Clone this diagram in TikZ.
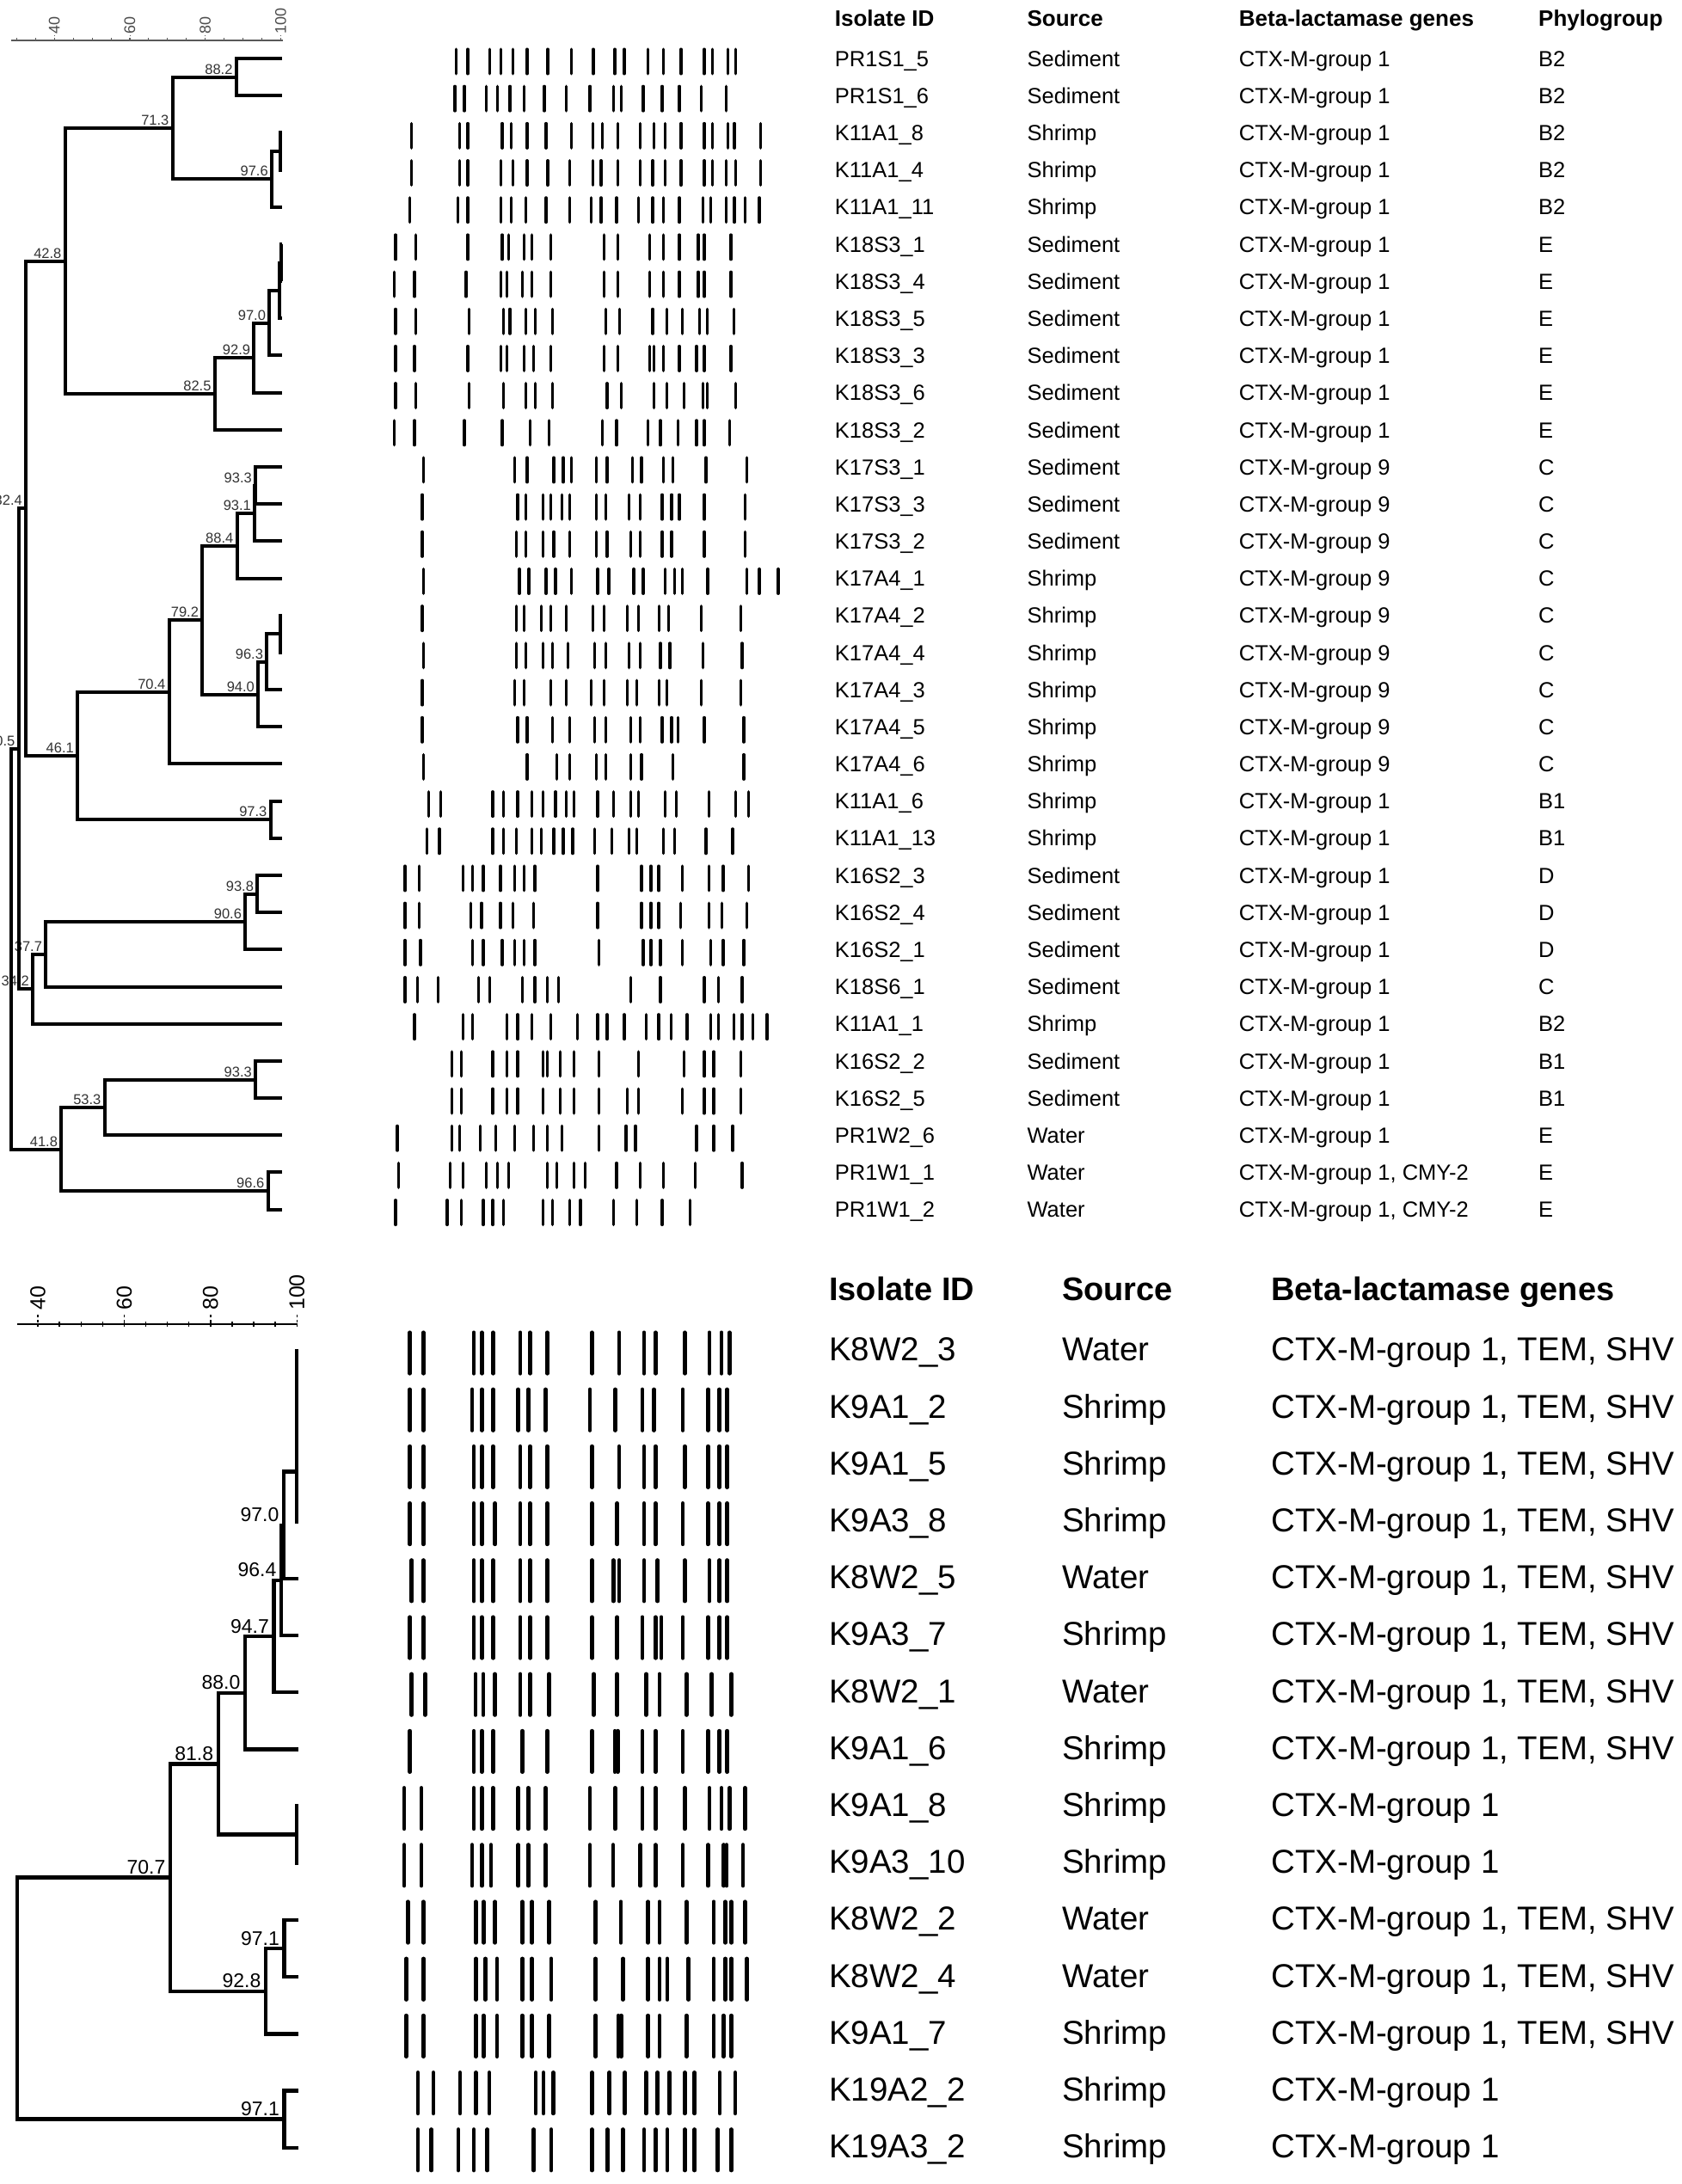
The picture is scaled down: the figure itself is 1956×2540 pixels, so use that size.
\documentclass[tikz,border=0pt]{standalone}
\usepackage{fontspec}
\setmainfont{Liberation Sans}
\newcommand{\tbands}[2]{\foreach \d in {#2}{\draw[tband] ({440+\d/3},{71.5+43.18*#1-14.2}) -- ++(0,28.4);}}
\newcommand{\bbands}[2]{\foreach \d in {#2}{\draw[bband] ({455+\d/3},{1573.5+66.2*#1-23.8}) -- ++(0,47.6);}}
\begin{document}
\begin{tikzpicture}[x=1pt,y=-1pt,
  tline/.style={line width=4pt,line join=miter},
  bline/.style={line width=4.5pt,line join=miter},
  tband/.style={line width=3.6pt,line cap=round},
  bband/.style={line width=4.6pt,line cap=round},
  tlbl/.style={font=\fontsize{16.5}{16.5}\selectfont,text=black!80,anchor=base east,inner sep=0pt},
  blbl/.style={font=\fontsize{23}{23}\selectfont,anchor=base east,inner sep=0pt},
  taxis/.style={font=\fontsize{18}{18}\selectfont,text=black!70,rotate=90,anchor=west,inner sep=0pt},
  baxis/.style={font=\fontsize{25}{25}\selectfont,rotate=90,anchor=west,inner sep=0pt},
  ttext/.style={font=\fontsize{25.5}{28}\selectfont,anchor=base west,inner sep=0pt},
  thead/.style={font=\fontsize{26}{28}\selectfont\bfseries,anchor=base west,inner sep=0pt},
  bhead/.style={font=\fontsize{38}{40}\selectfont\bfseries,anchor=base west,inner sep=0pt},
  btext/.style={font=\fontsize{38.5}{40}\selectfont,anchor=base west,inner sep=0pt}]
\useasboundingbox (0,0) rectangle (1956,2540);
\fill[white] (0,0) rectangle (1956,2540);
\clip (0,0) rectangle (1956,2540);

%% ---------------- TOP AXIS ----------------
\draw[black!65,line width=1.3pt] (13,47) -- (329,47);
\foreach \s in {30,35,...,100} \draw[black!65,line width=1.1pt] ({63.3+(\s-40)*4.385},47) -- ++(0,-3);
\foreach \s in {40,60,80,100} \draw[black!65,line width=1pt,dash pattern=on 2pt off 2pt] ({63.3+(\s-40)*4.385},46) -- ++(0,-5);
\foreach \s in {40,60,80,100} \node[taxis] (tax\s) at ({63.3+(\s-40)*4.385},40) {\s};

%% ---------------- TOP TREE ----------------
\foreach \i in {0,...,31} \coordinate (T\i) at (328,{68+43.18*\i});
\coordinate (t882) at (274.7,89.6);
\coordinate (tc23) at (326,176.0);
\coordinate (t976) at (315.9,208.3);
\coordinate (t713) at (200.6,149.0);
\coordinate (tc56) at (327,305.5);
\coordinate (tc567) at (325,337.9);
\coordinate (t970) at (313.2,375.7);
\coordinate (t929) at (295.3,416.1);
\coordinate (t825) at (249.7,458.0);
\coordinate (t428) at (75.6,303.5);
\coordinate (t933a) at (297.0,564.6);
\coordinate (t931) at (296.1,597.0);
\coordinate (t884) at (275.5,634.7);
\coordinate (tc1516) at (326,737.3);
\coordinate (t963) at (310.2,769.7);
\coordinate (t940) at (300.1,807.5);
\coordinate (t792) at (235.2,721.1);
\coordinate (t704) at (196.6,804.8);
\coordinate (t973) at (314.6,953.2);
\coordinate (t461) at (90.0,879.0);
\coordinate (t324) at (30.0,591.3);
\coordinate (t938) at (299.2,1039.6);
\coordinate (t906) at (285.2,1072.0);
\coordinate (t377) at (53.2,1109.8);
\coordinate (t342) at (37.9,1150.2);
\coordinate (t305) at (21.6,870.8);
\coordinate (t933b) at (297.0,1255.5);
\coordinate (t533) at (121.6,1287.9);
\coordinate (t966) at (311.5,1385.0);
\coordinate (t418) at (71.2,1336.5);
\coordinate (troot) at (12.9,1103.6);

\foreach \n/\v in {t882/88.2,t713/71.3,t976/97.6,t428/42.8,t970/97.0,t929/92.9,t825/82.5,t324/32.4,
  t933a/93.3,t931/93.1,t884/88.4,t792/79.2,t963/96.3,t940/94.0,t704/70.4,t461/46.1,t973/97.3,
  t305/30.5,t938/93.8,t906/90.6,t377/37.7,t342/34.2,t933b/93.3,t533/53.3,t418/41.8,t966/96.6}
  \node[tlbl] (l\n) at ([xshift=-4pt,yshift=3.5pt]\n) {\v};

\draw[tline] (T0) -| (t882) |- (T1);
\draw[tline] (T2) -| (tc23) |- (T3);
\draw[tline] (tc23) -| (t976) |- (T4);
\draw[tline] (t882) -| (t713) |- (t976);
\draw[tline] (T5) -| (tc56) |- (T6);
\draw[tline] (tc56) -| (tc567) |- (T7);
\draw[tline] (tc567) -| (t970) |- (T8);
\draw[tline] (t970) -| (t929) |- (T9);
\draw[tline] (t929) -| (t825) |- (T10);
\draw[tline] (t713) -| (t428) |- (t825);
\draw[tline] (T11) -| (t933a) |- (T12);
\draw[tline] (t933a) -| (t931) |- (T13);
\draw[tline] (t931) -| (t884) |- (T14);
\draw[tline] (T15) -| (tc1516) |- (T16);
\draw[tline] (tc1516) -| (t963) |- (T17);
\draw[tline] (t963) -| (t940) |- (T18);
\draw[tline] (t884) -| (t792) |- (t940);
\draw[tline] (t792) -| (t704) |- (T19);
\draw[tline] (T20) -| (t973) |- (T21);
\draw[tline] (t704) -| (t461) |- (t973);
\draw[tline] (t428) -| (t324) |- (t461);
\draw[tline] (T22) -| (t938) |- (T23);
\draw[tline] (t938) -| (t906) |- (T24);
\draw[tline] (t906) -| (t377) |- (T25);
\draw[tline] (t377) -| (t342) |- (T26);
\draw[tline] (t324) -| (t305) |- (t342);
\draw[tline] (T27) -| (t933b) |- (T28);
\draw[tline] (t933b) -| (t533) |- (T29);
\draw[tline] (T30) -| (t966) |- (T31);
\draw[tline] (t533) -| (t418) |- (t966);
\draw[tline] (t305) -| (troot) |- (t418);

%% ---------------- TOP BANDS ----------------
\tbands{0}{272,312,388,427,470,519,591,673,750,825,858,940,995,1056,1137,1165,1219,1247}
\tbands{1}{267,300,377,415,459,509,579,656,738,820,848,924,990,1050,1127,1214}
\tbands{2}{115,284,312,432,464,519,585,673,749,782,836,913,962,1001,1056,1137,1165,1219,1242,1334}
\tbands{3}{115,284,312,427,470,519,591,667,749,777,836,913,957,1001,1056,1137,1165,1214,1247,1334}
\tbands{4}{110,278,312,427,464,514,585,667,743,777,831,908,957,995,1050,1132,1160,1214,1242,1280,1329}
\tbands{5}{60,131,312,432,454,509,536,602,787,836,946,995,1050,1116,1137,1230}
\tbands{6}{55,126,306,427,448,503,536,602,787,836,946,995,1050,1116,1137,1230}
\tbands{7}{60,131,317,437,459,514,547,607,793,842,957,1006,1061,1121,1148,1241}
\tbands{8}{60,126,312,427,448,509,541,602,787,836,946,962,995,1050,1110,1137,1230}
\tbands{9}{60,131,317,437,514,547,607,798,847,962,1006,1066,1132,1148,1247}
\tbands{10}{55,126,300,432,530,596,782,831,940,984,1045,1110,1137,1225}
\tbands{11}{158,476,519,612,645,673,760,798,886,918,995,1028,1143,1286}
\tbands{12}{153,486,514,574,601,640,667,760,793,875,913,990,1023,1050,1137,1280}
\tbands{13}{153,481,514,574,612,667,760,798,880,913,990,1023,1137,1280}
\tbands{14}{158,492,525,585,618,673,765,804,891,924,1001,1034,1061,1149,1286,1329,1395}
\tbands{15}{153,481,509,569,601,656,749,787,869,908,979,1012,1127,1264}
\tbands{16}{158,481,514,574,607,662,754,793,875,913,984,1017,1132,1269}
\tbands{17}{153,476,509,601,656,743,787,869,902,979,1006,1127,1264}
\tbands{18}{153,486,519,607,667,754,793,880,913,990,1023,1045,1137,1275}
\tbands{19}{158,519,623,667,760,793,880,918,1028,1275}
\tbands{20}{175,218,399,437,486,536,574,618,656,683,765,820,880,908,1001,1039,1154,1247,1291}
\tbands{21}{170,213,399,437,481,536,569,612,645,678,754,815,875,902,995,1034,1143,1236}
\tbands{22}{93,142,295,328,366,426,475,508,546,765,918,951,978,1061,1154,1203,1291}
\tbands{23}{93,142,322,360,426,470,541,765,918,951,978,1055,1154,1198,1286}
\tbands{24}{93,147,328,366,432,475,508,546,770,924,951,984,1061,1159,1203,1275}
\tbands{25}{93,136,208,350,388,503,546,590,628,880,984,1137,1187,1269}
\tbands{26}{126,295,328,448,486,536,601,694,765,798,858,935,978,1022,1077,1159,1187,1241,1269,1307,1356}
\tbands{27}{257,289,399,448,486,574,590,634,683,770,908,1066,1137,1170,1264}
\tbands{28}{257,289,399,448,486,574,634,683,770,869,908,1061,1137,1170,1264}
\tbands{29}{66,257,284,355,410,475,541,590,640,770,864,897,1110,1170,1236}
\tbands{30}{71,251,295,377,415,454,590,623,683,721,831,913,995,1105,1269}
\tbands{31}{60,240,289,366,399,437,574,607,667,705,820,902,990,1088}

%% ---------------- TOP TABLE ----------------
\node[thead] (hid) at (970.7,31) {Isolate ID};
\node[thead] (hsrc) at (1194.4,31) {Source};
\node[thead] (hgen) at (1440.7,31) {Beta-lactamase genes};
\node[thead] (hph) at (1789,31) {Phylogroup};
\foreach \i/\id/\src/\gen/\ph in {
 0/PR1S1\_5/Sediment/CTX-M-group 1/B2,
 1/PR1S1\_6/Sediment/CTX-M-group 1/B2,
 2/K11A1\_8/Shrimp/CTX-M-group 1/B2,
 3/K11A1\_4/Shrimp/CTX-M-group 1/B2,
 4/K11A1\_11/Shrimp/CTX-M-group 1/B2,
 5/K18S3\_1/Sediment/CTX-M-group 1/E,
 6/K18S3\_4/Sediment/CTX-M-group 1/E,
 7/K18S3\_5/Sediment/CTX-M-group 1/E,
 8/K18S3\_3/Sediment/CTX-M-group 1/E,
 9/K18S3\_6/Sediment/CTX-M-group 1/E,
 10/K18S3\_2/Sediment/CTX-M-group 1/E,
 11/K17S3\_1/Sediment/CTX-M-group 9/C,
 12/K17S3\_3/Sediment/CTX-M-group 9/C,
 13/K17S3\_2/Sediment/CTX-M-group 9/C,
 14/K17A4\_1/Shrimp/CTX-M-group 9/C,
 15/K17A4\_2/Shrimp/CTX-M-group 9/C,
 16/K17A4\_4/Shrimp/CTX-M-group 9/C,
 17/K17A4\_3/Shrimp/CTX-M-group 9/C,
 18/K17A4\_5/Shrimp/CTX-M-group 9/C,
 19/K17A4\_6/Shrimp/CTX-M-group 9/C,
 20/K11A1\_6/Shrimp/CTX-M-group 1/B1,
 21/K11A1\_13/Shrimp/CTX-M-group 1/B1,
 22/K16S2\_3/Sediment/CTX-M-group 1/D,
 23/K16S2\_4/Sediment/CTX-M-group 1/D,
 24/K16S2\_1/Sediment/CTX-M-group 1/D,
 25/K18S6\_1/Sediment/CTX-M-group 1/C,
 26/K11A1\_1/Shrimp/CTX-M-group 1/B2,
 27/K16S2\_2/Sediment/CTX-M-group 1/B1,
 28/K16S2\_5/Sediment/CTX-M-group 1/B1,
 29/PR1W2\_6/Water/CTX-M-group 1/E,
 30/PR1W1\_1/Water/{CTX-M-group 1, CMY-2}/E,
 31/PR1W1\_2/Water/{CTX-M-group 1, CMY-2}/E}
{
 \node[ttext] (tid\i) at (970.7,{77.2+43.18*\i}) {\id};
 \node[ttext] (tsrc\i) at (1194.4,{77.2+43.18*\i}) {\src};
 \node[ttext] (tgen\i) at (1440.7,{77.2+43.18*\i}) {\gen};
 \node[ttext] (tph\i) at (1789,{77.2+43.18*\i}) {\ph};
}

%% ---------------- BOTTOM AXIS ----------------
\draw[line width=1.8pt] (20,1540) -- (346,1540);
\foreach \s in {45,50,...,95} \draw[line width=1.4pt] ({44+(\s-40)*5.02},1537) -- ++(0,6);
\foreach \s in {40,60,80,100} \draw[line width=1.4pt,dash pattern=on 3pt off 2.5pt] ({44+(\s-40)*5.02},1543) -- ++(0,-16);
\foreach \s in {40,60,80,100} \node[baxis] (bax\s) at ({44+(\s-40)*5.02},1524) {\s};

%% ---------------- BOTTOM TREE ----------------
\foreach \j in {0,...,14} \coordinate (B\j) at (347,{1571+66.2*\j});
\coordinate (bA01) at (345,1604.1);
\coordinate (bA012) at (345,1653.8);
\coordinate (bA) at (345,1711.7);
\coordinate (b970) at (330.1,1773.8);
\coordinate (b964) at (327.1,1837.9);
\coordinate (b947) at (318.6,1903.1);
\coordinate (b880) at (285.0,1968.8);
\coordinate (bB) at (345,2133.7);
\coordinate (b818) at (253.8,2051.3);
\coordinate (b971a) at (330.6,2266.1);
\coordinate (b928) at (309.1,2315.8);
\coordinate (b707) at (198.1,2183.5);
\coordinate (b971b) at (330.6,2464.7);
\coordinate (broot) at (20,2324.1);

\foreach \n/\v in {b970/97.0,b964/96.4,b947/94.7,b880/88.0,b818/81.8,b707/70.7,b971a/97.1,b928/92.8,b971b/97.1}
  \node[blbl] (l\n) at ([xshift=-5.5pt,yshift=4pt]\n) {\v};

\draw[bline] (B0) -| (bA01) |- (B1);
\draw[bline] (bA01) -| (bA012) |- (B2);
\draw[bline] (bA012) -| (bA) |- (B3);
\draw[bline] (bA) -| (b970) |- (B4);
\draw[bline] (b970) -| (b964) |- (B5);
\draw[bline] (b964) -| (b947) |- (B6);
\draw[bline] (b947) -| (b880) |- (B7);
\draw[bline] (B8) -| (bB) |- (B9);
\draw[bline] (b880) -| (b818) |- (bB);
\draw[bline] (B10) -| (b971a) |- (B11);
\draw[bline] (b971a) -| (b928) |- (B12);
\draw[bline] (b818) -| (b707) |- (b928);
\draw[bline] (B13) -| (b971b) |- (B14);
\draw[bline] (b707) -| (broot) |- (b971b);

%% ---------------- BOTTOM BANDS ----------------
\bbands{0}{65,112,288,316,355,450,484,544,700,795,882,922,1024,1110,1152,1180}
\bbands{1}{65,112,282,316,355,443,478,538,693,781,876,916,1017,1105,1145,1172}
\bbands{2}{65,112,288,316,355,450,484,544,700,795,882,922,1024,1105,1145,1172}
\bbands{3}{65,112,288,316,362,450,484,544,700,788,882,922,1017,1105,1145,1172}
\bbands{4}{71,112,288,316,355,450,484,544,700,775,795,882,929,1024,1110,1145,1172}
\bbands{5}{65,112,288,316,355,450,484,544,700,788,876,922,942,1017,1105,1145,1172}
\bbands{6}{71,118,294,321,362,450,484,551,706,788,889,936,1030,1118,1186}
\bbands{7}{65,288,316,355,457,544,700,780,790,876,922,1017,1105,1145,1172}
\bbands{8}{45,105,288,316,355,443,478,538,693,781,876,922,1024,1110,1152,1180,1234}
\bbands{9}{45,105,282,316,348,443,478,538,693,774,869,922,1017,1105,1160,1170,1227}
\bbands{10}{58,112,295,322,362,457,491,551,713,801,896,936,1030,1125,1165,1186,1234}
\bbands{11}{52,112,295,328,369,457,491,558,713,808,896,936,963,1037,1125,1165,1186,1241}
\bbands{12}{52,112,295,322,369,457,491,551,713,792,802,896,936,1030,1125,1159,1186}
\bbands{13}{93,147,240,295,342,504,531,565,700,761,815,889,929,970,1024,1058,1146,1200}
\bbands{14}{93,140,234,288,335,497,558,700,754,808,882,922,963,1024,1058,1139,1186}

%% ---------------- BOTTOM TABLE ----------------
\node[bhead] (bhid) at (964,1512.8) {Isolate ID};
\node[bhead] (bhsrc) at (1235,1512.8) {Source};
\node[bhead] (bhgen) at (1478,1512.8) {Beta-lactamase genes};
\foreach \j/\id/\src/\gen in {
 0/K8W2\_3/Water/{CTX-M-group 1, TEM, SHV},
 1/K9A1\_2/Shrimp/{CTX-M-group 1, TEM, SHV},
 2/K9A1\_5/Shrimp/{CTX-M-group 1, TEM, SHV},
 3/K9A3\_8/Shrimp/{CTX-M-group 1, TEM, SHV},
 4/K8W2\_5/Water/{CTX-M-group 1, TEM, SHV},
 5/K9A3\_7/Shrimp/{CTX-M-group 1, TEM, SHV},
 6/K8W2\_1/Water/{CTX-M-group 1, TEM, SHV},
 7/K9A1\_6/Shrimp/{CTX-M-group 1, TEM, SHV},
 8/K9A1\_8/Shrimp/CTX-M-group 1,
 9/K9A3\_10/Shrimp/CTX-M-group 1,
 10/K8W2\_2/Water/{CTX-M-group 1, TEM, SHV},
 11/K8W2\_4/Water/{CTX-M-group 1, TEM, SHV},
 12/K9A1\_7/Shrimp/{CTX-M-group 1, TEM, SHV},
 13/K19A2\_2/Shrimp/CTX-M-group 1,
 14/K19A3\_2/Shrimp/CTX-M-group 1}
{
 \node[btext] (bid\j) at (964,{1582.8+66.2*\j}) {\id};
 \node[btext] (bsrc\j) at (1235,{1582.8+66.2*\j}) {\src};
 \node[btext] (bgen\j) at (1478,{1582.8+66.2*\j}) {\gen};
}
\end{tikzpicture}
\end{document}
